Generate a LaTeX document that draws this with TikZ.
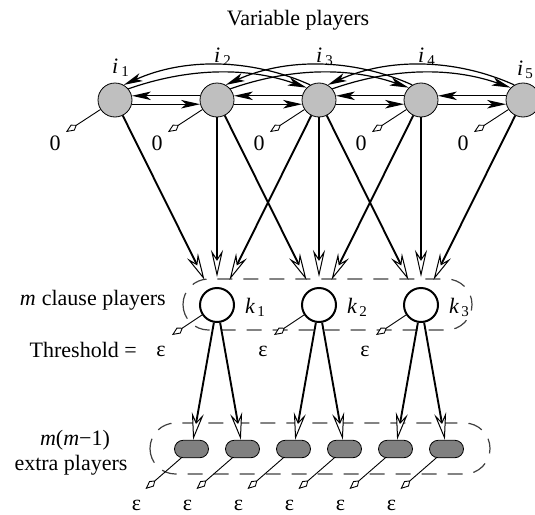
\documentclass[tikz,border=0pt]{standalone}
\usepackage{fontspec}
\setmainfont{Liberation Serif}
\usetikzlibrary{arrows.meta,shapes.misc}
\newcommand\mysub[1]{\raisebox{-3pt}{\fontsize{15}{15}\selectfont #1}}
\begin{document}
\begin{tikzpicture}[x=1pt,y=-1pt,
  every node/.style={font=\fontsize{22}{26}\selectfont, inner sep=0pt},
  var/.style={circle, draw, line width=0.8pt, fill=gray!50, minimum size=34pt},
  clause/.style={circle, draw, line width=2pt, fill=white, minimum size=34pt},
  extra/.style={rounded rectangle, draw, line width=0.8pt, fill=gray, minimum width=34pt, minimum height=17.5pt},
  bigarrow/.style={line width=1.9pt, -{Stealth[length=27pt,width=12pt,inset=9pt,fill=white,line width=1pt]}},
  harrow/.style={line width=1.2pt, -{Stealth[length=19pt,width=8.5pt,inset=5pt]}},
  smallarrow/.style={line width=0.9pt, -{Kite[open,length=13pt,width=7pt,inset=5pt,fill=white,line width=0.9pt]}},
  dbox/.style={draw=black!75, line width=1.2pt, dash pattern=on 15pt off 11pt, rounded corners=25.5pt},
  lbl/.style={anchor=base}
]
\useasboundingbox (0,0) rectangle (535,514);
\clip (0,0) rectangle (535,514);

% dashed groups
\draw[dbox] (183,279) rectangle (472,330);
\draw[dbox] (150,423) rectangle (490,474);

% texts
\node[lbl] (title) at (298,25) {Variable players};
\node[anchor=base east] (tclause) at (166,305) {\textit{m}\hspace{6pt}clause players};
\node[anchor=base east] (tthr) at (137,357) {Threshold =};
\node[lbl] (tmm) at (75,445) {\textit{m}(\textit{m}−1)};
\node[lbl] (textra) at (71,470) {extra players};

% variable players
\node[var] (i1) at (115,100) {};
\node[var] (i2) at (217,100) {};
\node[var] (i3) at (319,100) {};
\node[var] (i4) at (421,100) {};
\node[var] (i5) at (523,100) {};
\node[anchor=base west] (li1) at (112,73) {\textit{i}\hspace{3pt}\mysub{1}};
\node[anchor=base west] (li2) at (214,62) {\textit{i}\hspace{3pt}\mysub{2}};
\node[anchor=base west] (li3) at (316,62) {\textit{i}\hspace{3pt}\mysub{3}};
\node[anchor=base west] (li4) at (418,62) {\textit{i}\hspace{3pt}\mysub{4}};
\node[anchor=base west] (li5) at (517,75) {\textit{i}\hspace{2pt}\mysub{5}};

% clause players
\node[clause] (k1) at (217,305) {};
\node[clause] (k2) at (319,305) {};
\node[clause] (k3) at (421,305) {};
\node[anchor=base west] (lk1) at (245,313) {\textit{k}\hspace{2pt}\mysub{1}};
\node[anchor=base west] (lk2) at (347,313) {\textit{k}\hspace{2pt}\mysub{2}};
\node[anchor=base west] (lk3) at (449,313) {\textit{k}\hspace{2pt}\mysub{3}};

% extra players
\node[extra] (e1) at (191.5,449) {};
\node[extra] (e2) at (242.5,449) {};
\node[extra] (e3) at (293.5,449) {};
\node[extra] (e4) at (344.5,449) {};
\node[extra] (e5) at (395.5,449) {};
\node[extra] (e6) at (446.5,449) {};

% zero-payoff arrows for variables
\foreach \n/\x in {1/115,2/217,3/319,4/421,5/523}{
  \coordinate (z\n) at ({\x-49},132);
  \draw[smallarrow] (i\n) -- (z\n);
  \node[lbl] (zl\n) at ({\x-60},150) {0};
}

% threshold arrows for clauses
\foreach \n/\x in {1/217,2/319,3/421}{
  \coordinate (c\n) at ({\x-45},335);
  \draw[smallarrow] (k\n) -- (c\n);
  \node[lbl] (cl\n) at ({\x-56},356) {ε};
}

% threshold arrows for extra players
\foreach \n/\x in {1/191.5,2/242.5,3/293.5,4/344.5,5/395.5,6/446.5}{
  \coordinate (x\n) at ({\x-46},489);
  \draw[smallarrow] (e\n) -- (x\n);
  \node[lbl] (xl\n) at ({\x-55},510) {ε};
}

% horizontal arrows between neighbours
\foreach \a/\b in {1/2,2/3,3/4,4/5}{
  \draw[harrow] (i\b.166) -- (i\a.14);
  \draw[harrow] (i\a.-14) -- (i\b.194);
}

% arcs skipping one
\foreach \a/\b in {1/3,2/4,3/5}{
  \draw[harrow] (i\b.120) .. controls +(-60,-27) and +(60,-27) .. (i\a.60);
  \draw[harrow] (i\a.40) .. controls +(60,-21) and +(-60,-21) .. (i\b.135);
}

% variables to clauses
\foreach \v/\k in {1/1,2/1,3/1,2/2,3/2,4/2,3/3,4/3,5/3}{
  \draw[bigarrow, shorten >=10pt] (i\v) -- (k\k);
}

% clauses to extra players
\foreach \k/\e in {1/1,1/2,2/3,2/4,3/5,3/6}{
  \draw[bigarrow] (k\k) -- (e\e);
}
\end{tikzpicture}
\end{document}
